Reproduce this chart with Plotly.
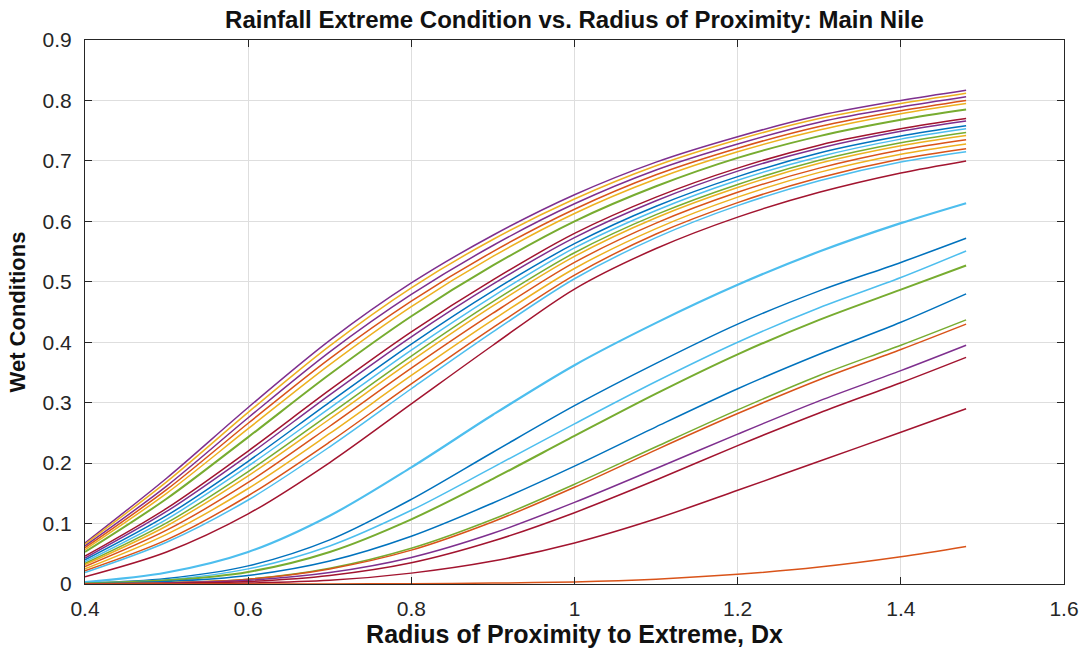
import plotly.graph_objects as go

x_vals = [0.4, 0.5, 0.6, 0.7, 0.8, 0.9, 1.0, 1.1, 1.2, 1.3, 1.4, 1.48]

# MATLAB default colour order
C_BLUE = "#0072BD"
C_ORANGE = "#D95319"
C_YELLOW = "#EDB120"
C_PURPLE = "#7E2F8E"
C_GREEN = "#77AC30"
C_LBLUE = "#4DBEEE"
C_DRED = "#A2142F"

# Upper bundle of curves
c01 = [0.068, 0.175, 0.292, 0.403, 0.498, 0.577, 0.644, 0.698, 0.740, 0.775, 0.800, 0.817]
c02 = [0.066, 0.169, 0.284, 0.394, 0.490, 0.570, 0.637, 0.692, 0.735, 0.770, 0.795, 0.812]
c03 = [0.063, 0.162, 0.275, 0.384, 0.479, 0.560, 0.629, 0.685, 0.728, 0.764, 0.789, 0.806]
c04 = [0.060, 0.156, 0.266, 0.373, 0.468, 0.550, 0.620, 0.677, 0.721, 0.757, 0.783, 0.800]
c05 = [0.057, 0.150, 0.257, 0.363, 0.459, 0.542, 0.613, 0.670, 0.715, 0.751, 0.778, 0.795]
c06 = [0.053, 0.141, 0.243, 0.347, 0.443, 0.527, 0.600, 0.658, 0.705, 0.741, 0.768, 0.785]
c07 = [0.046, 0.125, 0.220, 0.321, 0.417, 0.503, 0.580, 0.640, 0.688, 0.726, 0.753, 0.770]
c08 = [0.043, 0.120, 0.213, 0.313, 0.409, 0.496, 0.573, 0.634, 0.683, 0.721, 0.749, 0.766]
c09 = [0.040, 0.113, 0.203, 0.301, 0.397, 0.485, 0.563, 0.625, 0.674, 0.713, 0.741, 0.758]
c10 = [0.037, 0.107, 0.195, 0.291, 0.387, 0.476, 0.556, 0.618, 0.668, 0.707, 0.736, 0.753]
c11 = [0.034, 0.101, 0.186, 0.281, 0.377, 0.467, 0.548, 0.611, 0.661, 0.701, 0.730, 0.747]
c12 = [0.032, 0.096, 0.179, 0.273, 0.369, 0.460, 0.542, 0.606, 0.656, 0.696, 0.725, 0.742]
c13 = [0.029, 0.089, 0.168, 0.261, 0.357, 0.448, 0.532, 0.597, 0.648, 0.688, 0.718, 0.735]
c14 = [0.025, 0.082, 0.158, 0.249, 0.345, 0.437, 0.522, 0.588, 0.640, 0.681, 0.711, 0.728]
c15 = [0.022, 0.073, 0.146, 0.235, 0.331, 0.424, 0.511, 0.579, 0.631, 0.672, 0.703, 0.720]
c16 = [0.019, 0.069, 0.139, 0.227, 0.323, 0.417, 0.505, 0.573, 0.626, 0.667, 0.698, 0.715]
c17 = [0.012, 0.053, 0.116, 0.201, 0.298, 0.395, 0.488, 0.555, 0.607, 0.648, 0.680, 0.700]

# Lower group of curves
d01 = [0.003, 0.019, 0.053, 0.113, 0.193, 0.280, 0.362, 0.432, 0.495, 0.550, 0.597, 0.630]
d02 = [0.001, 0.009, 0.030, 0.073, 0.140, 0.218, 0.295, 0.365, 0.430, 0.485, 0.532, 0.572]
d03 = [0.001, 0.007, 0.025, 0.063, 0.122, 0.193, 0.265, 0.335, 0.400, 0.457, 0.507, 0.551]
d04 = [0.001, 0.006, 0.020, 0.053, 0.107, 0.174, 0.245, 0.315, 0.380, 0.437, 0.487, 0.527]
d05 = [0.0005, 0.004, 0.014, 0.038, 0.079, 0.134, 0.195, 0.260, 0.323, 0.380, 0.433, 0.480]
d06 = [0.0003, 0.002, 0.008, 0.026, 0.059, 0.107, 0.165, 0.227, 0.288, 0.345, 0.395, 0.437]
d07 = [0.0003, 0.002, 0.008, 0.025, 0.056, 0.103, 0.160, 0.222, 0.282, 0.338, 0.388, 0.430]
d08 = [0.0002, 0.0015, 0.006, 0.019, 0.044, 0.084, 0.135, 0.191, 0.248, 0.303, 0.353, 0.395]
d09 = [0.0001, 0.001, 0.004, 0.014, 0.035, 0.071, 0.118, 0.172, 0.229, 0.283, 0.333, 0.375]
d10 = [0.0, 0.0003, 0.0015, 0.006, 0.018, 0.038, 0.068, 0.108, 0.155, 0.203, 0.251, 0.290]
d11 = [0.0, 0.0, 0.0, 0.0002, 0.0006, 0.0015, 0.0035, 0.008, 0.016, 0.028, 0.045, 0.062]

series = [
    (c01, C_PURPLE, 1.5), (c02, C_YELLOW, 1.5), (c03, C_PURPLE, 1.5), (c04, C_ORANGE, 1.5),
    (c05, C_YELLOW, 1.5), (c06, C_GREEN, 2.0), (c07, C_DRED, 1.5), (c08, C_PURPLE, 1.5),
    (c09, C_BLUE, 1.5), (c10, C_LBLUE, 1.5), (c11, C_GREEN, 1.5), (c12, C_YELLOW, 1.5),
    (c13, C_ORANGE, 1.5), (c14, C_YELLOW, 1.5), (c15, C_ORANGE, 1.5), (c16, C_LBLUE, 1.5),
    (c17, C_DRED, 1.5),
    (d01, C_LBLUE, 2.2), (d02, C_BLUE, 1.5), (d03, C_LBLUE, 1.5), (d04, C_GREEN, 2.0),
    (d05, C_BLUE, 1.5), (d06, C_GREEN, 1.5), (d07, C_ORANGE, 1.5), (d08, C_PURPLE, 1.5),
    (d09, C_DRED, 1.5), (d10, C_DRED, 1.5), (d11, C_ORANGE, 1.5),
]

x_ticks = [0.4, 0.6, 0.8, 1.0, 1.2, 1.4, 1.6]
x_tick_text = ["0.4", "0.6", "0.8", "1", "1.2", "1.4", "1.6"]
y_ticks = [0, 0.1, 0.2, 0.3, 0.4, 0.5, 0.6, 0.7, 0.8, 0.9]
y_tick_text = ["0", "0.1", "0.2", "0.3", "0.4", "0.5", "0.6", "0.7", "0.8", "0.9"]

fig = go.Figure()
for ys, col, w in series:
    fig.add_trace(go.Scatter(
        x=x_vals, y=ys, mode="lines",
        line=dict(color=col, width=w, shape="spline", smoothing=0.9),
        showlegend=False, hoverinfo="skip",
    ))

FONT = "Liberation Sans, Arial, sans-serif"
AX_COL = "#262626"

fig.update_layout(
    width=1091, height=660,
    margin=dict(l=85, r=25, t=40, b=76),
    paper_bgcolor="white", plot_bgcolor="white",
    font=dict(family=FONT, color=AX_COL, size=21),
    title=dict(
        text="<b>Rainfall Extreme Condition vs. Radius of Proximity: Main Nile</b>",
        x=0.5, xref="paper", xanchor="center",
        y=0.9697, yref="container", yanchor="middle",
        font=dict(family=FONT, size=24, color="#111111"),
    ),
    xaxis=dict(
        range=[0.4, 1.6], tickmode="array", tickvals=x_ticks, ticktext=x_tick_text,
        showgrid=True, gridcolor="#DEDEDE", gridwidth=1,
        showline=True, linecolor=AX_COL, linewidth=1, mirror="ticks",
        ticks="inside", ticklen=7, tickcolor=AX_COL, zeroline=False,
        tickfont=dict(size=21), ticklabelstandoff=6,
        title=dict(text="<b>Radius of Proximity to Extreme, Dx</b>",
                   font=dict(size=25, color="#111111"), standoff=5),
    ),
    yaxis=dict(
        range=[0, 0.9], tickmode="array", tickvals=y_ticks, ticktext=y_tick_text,
        showgrid=True, gridcolor="#DEDEDE", gridwidth=1,
        showline=True, linecolor=AX_COL, linewidth=1, mirror="ticks",
        ticks="inside", ticklen=7, tickcolor=AX_COL, zeroline=False,
        tickfont=dict(size=21), ticklabelstandoff=8,
        title=dict(text="<b>Wet Conditions</b>",
                   font=dict(size=22, color="#111111"), standoff=10),
    ),
)

fig.write_html("out.html")
